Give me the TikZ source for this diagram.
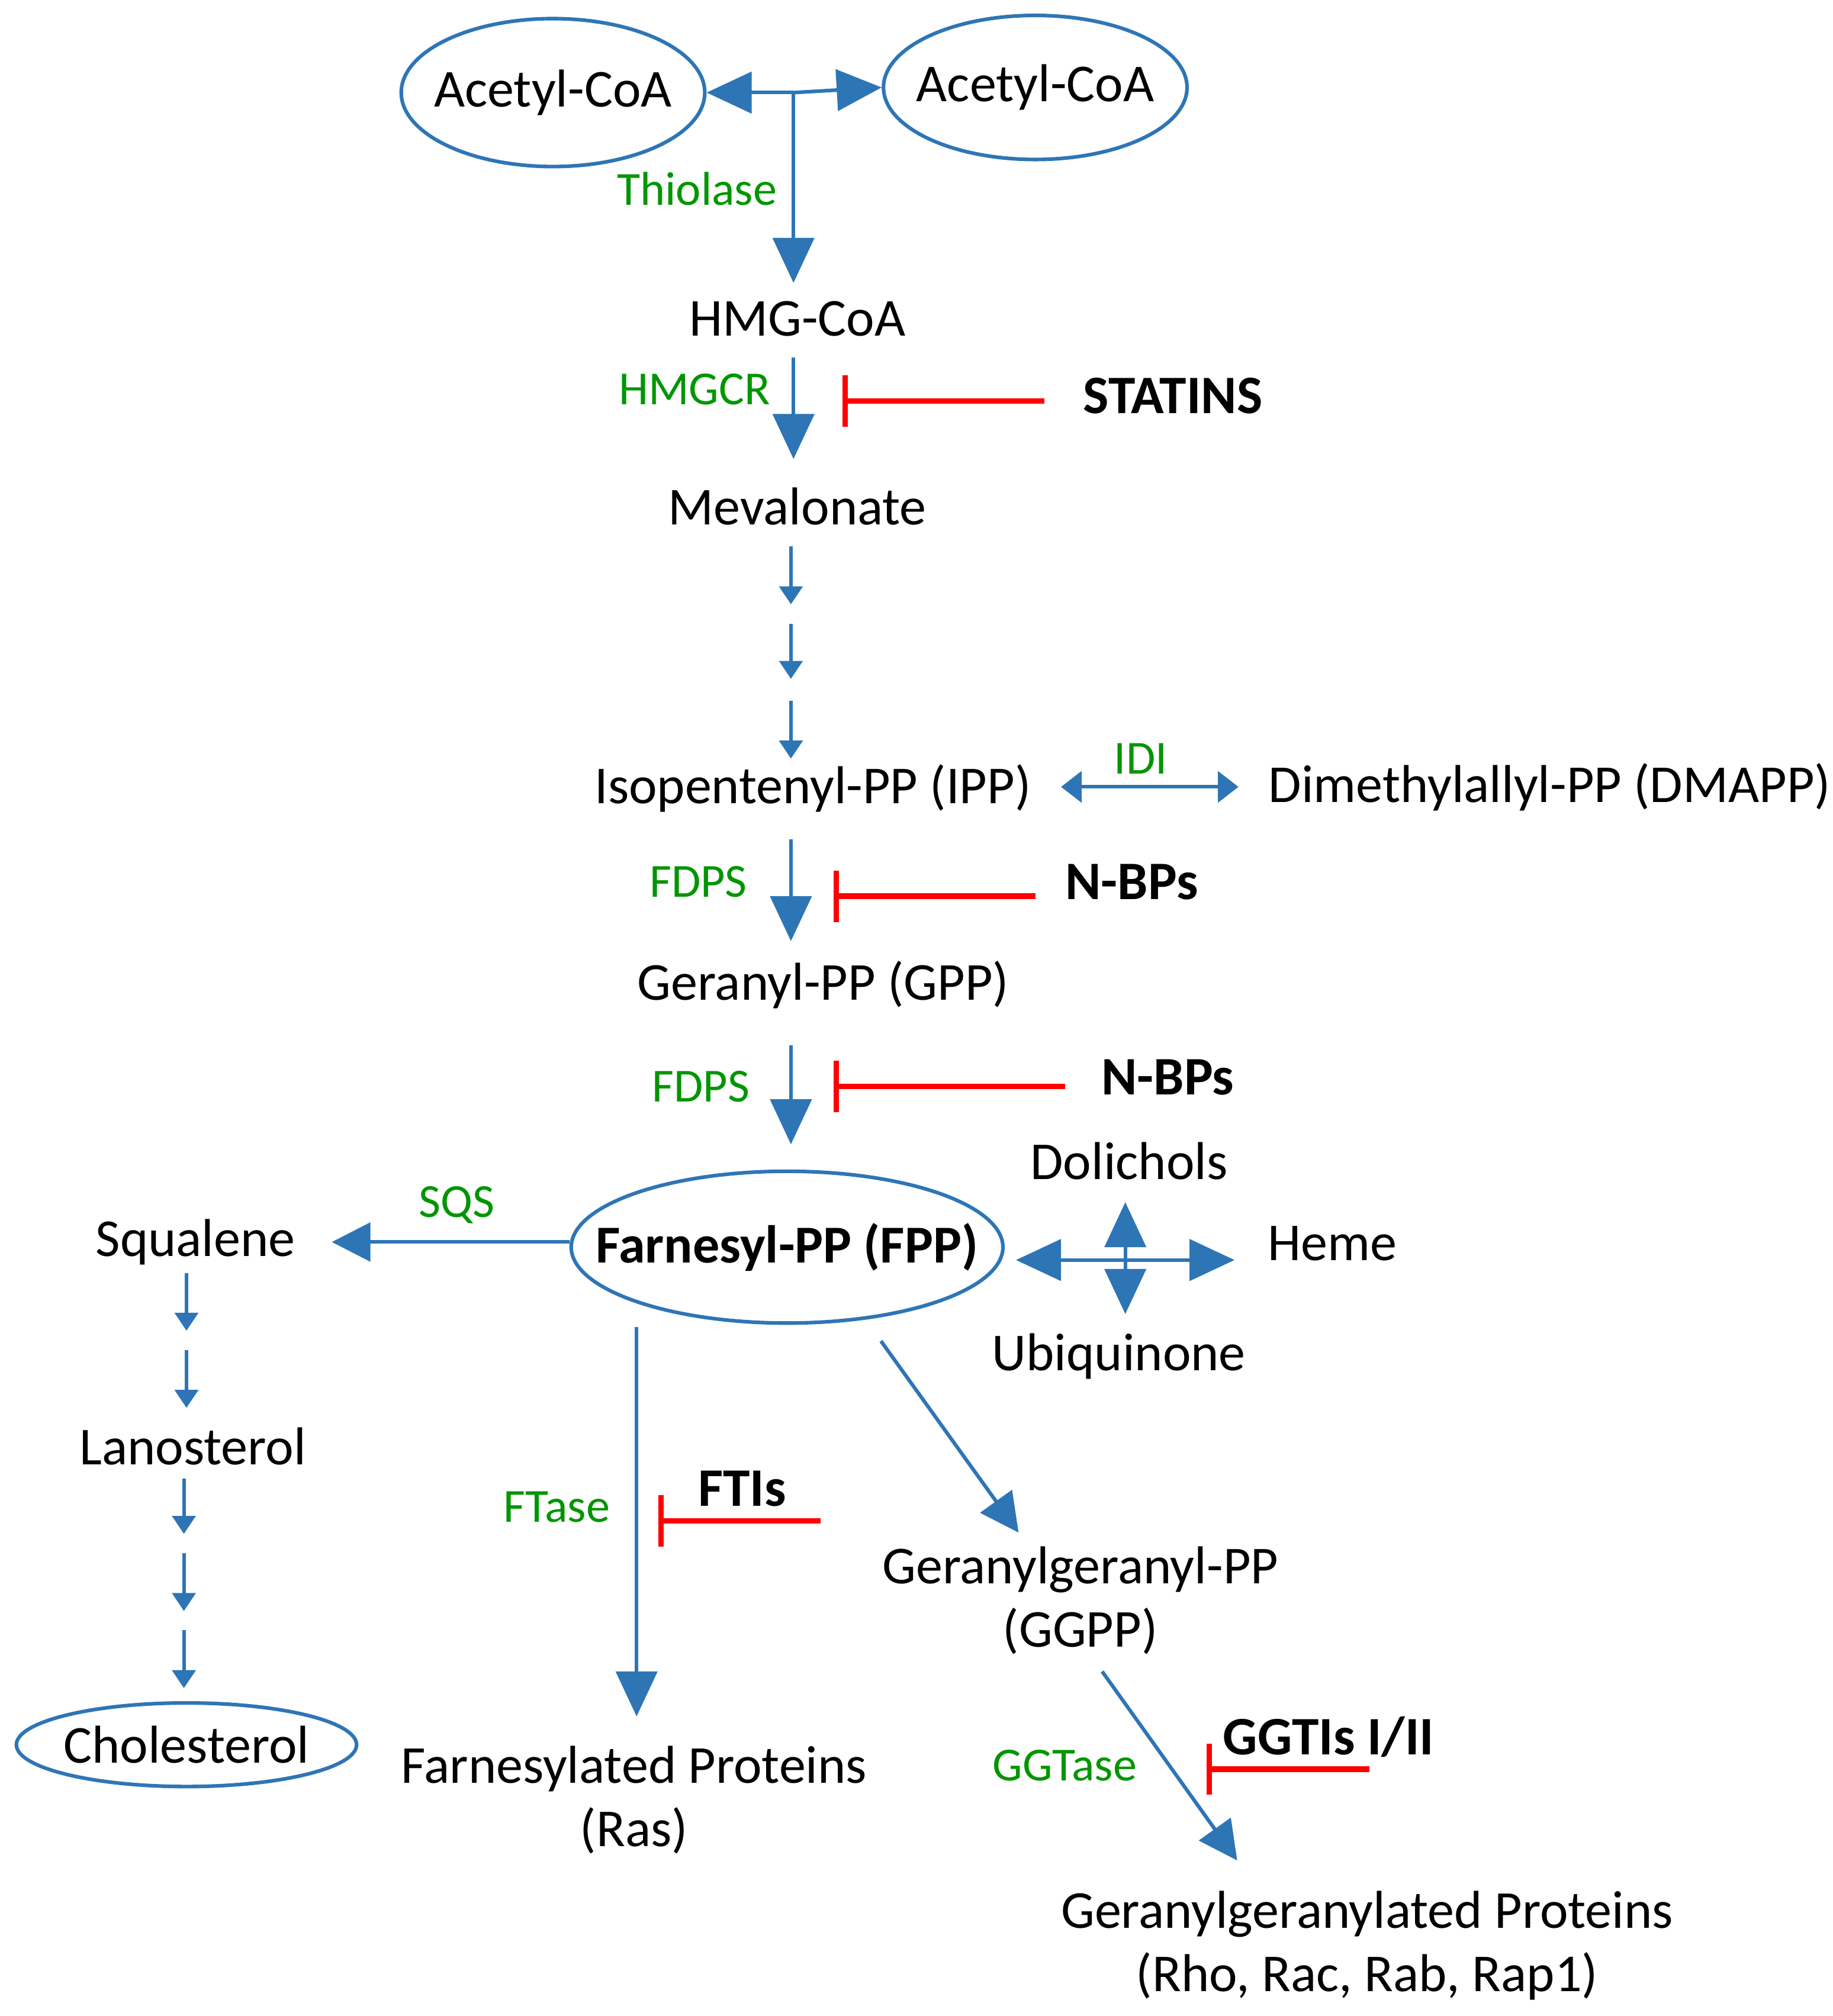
\documentclass[tikz,border=0pt]{standalone}
\usepackage{fontspec}
\setmainfont{Carlito}
\usetikzlibrary{arrows.meta,shapes.geometric}
\definecolor{pathblue}{RGB}{46,117,182}
\definecolor{enzgreen}{RGB}{0,150,0}
\tikzstyle{every node}=[font=\fontsize{11.8}{14}\selectfont,inner sep=1pt]
\tikzstyle{ring}=[draw=pathblue,thick,shape=ellipse,inner ysep=0pt]
\tikzstyle{enz}=[text=enzgreen,font=\fontsize{10.5}{12}\selectfont]
\tikzstyle{drug}=[font=\bfseries\fontsize{12}{14}\selectfont]
\tikzstyle{big}=[draw=pathblue,thick,-{Triangle[length=3.5mm,width=3.2mm]}]
\tikzstyle{small}=[draw=pathblue,thick,-{Triangle[length=1.4mm,width=1.8mm]}]
\tikzstyle{block}=[draw=red,very thick,-{Bar[width=4mm]}]

\begin{document}
\begin{tikzpicture}[x=0.01cm,y=-0.01cm]
\useasboundingbox (0,0) rectangle (1425,1568);
% substrates
\node[ring,inner xsep=-0.09cm,minimum height=1.15cm] (acl) at (430,72) {Acetyl-CoA};
\node[ring,inner xsep=-0.09cm,minimum height=1.12cm] (acr) at (805,68) {Acetyl-CoA};
\coordinate (jn) at (617,72);
\node (hmg) at (620,248) {HMG-CoA};
\node (mev) at (620,394) {Mevalonate};
\node (ipp) at (632,613) {Isopentenyl-PP (IPP)};
\node (dmapp) at (1205,612) {Dimethylallyl-PP (DMAPP)};
\node (gpp) at (640,766) {Geranyl-PP (GPP)};
\node[ring,inner xsep=-0.3cm,minimum height=1.18cm,font=\bfseries\fontsize{11.8}{14}\selectfont] (fpp) at (612,970) {Farnesyl-PP (FPP)};
\node (dol) at (878,903) {Dolichols};
\node (heme) at (1036,967) {Heme};
\node (ubi) at (870,1055) {Ubiquinone};
\node (sq) at (152,966) {Squalene};
\node (lan) at (150,1125) {Lanosterol};
\node[ring,inner xsep=-0.02cm,minimum height=0.65cm] (chol) at (145,1357) {Cholesterol};
\node[align=center] (fprot) at (493,1400) {Farnesylated Proteins\\(Ras)};
\node[align=center] (ggpp) at (840,1245) {Geranylgeranyl-PP\\(GGPP)};
\node[align=center] (ggprot) at (1063,1513) {Geranylgeranylated Proteins\\(Rho, Rac, Rab, Rap1)};
% enzymes and drugs
\node[enz] (thi) at (542,147) {Thiolase};
\node[enz] (hmgcr) at (540,303) {HMGCR};
\node[enz] (idi) at (887,590) {IDI};
\node[enz] (fdpsa) at (543,686) {FDPS};
\node[enz] (fdpsb) at (545,845) {FDPS};
\node[enz] (sqs) at (355,937) {SQS};
\node[enz] (ftase) at (433,1172) {FTase};
\node[enz] (ggtase) at (828,1373) {GGTase};
\node[drug] (stat) at (912,308) {STATINS};
\node[drug] (nbpa) at (880,686) {N-BPs};
\node[drug] (nbpb) at (908,838) {N-BPs};
\node[drug] (ftis) at (577,1158) {FTIs};
\node[drug] (ggtis) at (1033,1351) {GGTIs I/II};
% main chain
\draw[big] (jn) -- (acl.east);
\draw[big] (jn) -- (acr.west);
\draw[big] (jn) -- (617,220);
\draw[big] (617,278) -- (617,357);
\foreach \a/\b in {425/470,485/528,545/590}
  \draw[small] (615,\a) -- (615,\b);
\draw[draw=pathblue,thick,{Triangle[length=1.6mm,width=2.4mm]}-{Triangle[length=1.6mm,width=2.4mm]}] (825,612) -- (963,612);
\draw[big] (615,653) -- (615,732);
\draw[big] (615,813) -- (615,890);
% FPP branches
\draw[big] (875,980) -- (790,980);
\draw[big] (875,980) -- (960,980);
\draw[big] (875,980) -- (875,935);
\draw[big] (875,980) -- (875,1022);
\draw[draw=pathblue,thick,-{Triangle[length=3mm,width=3mm]}] (443,966) -- (258,966);
\foreach \a/\b in {990/1035,1050/1095}
  \draw[small] (145,\a) -- (145,\b);
\foreach \a/\b in {1150/1193,1208/1253,1268/1313}
  \draw[small] (143,\a) -- (143,\b);
\draw[big] (495,1032) -- (495,1335);
\draw[draw=pathblue,thick,-{Triangle[length=3mm,width=3mm]}] (685,1043) -- (792,1192);
\draw[draw=pathblue,thick,-{Triangle[length=3mm,width=3mm]}] (857,1300) -- (962,1447);
% inhibitors
\draw[block] (812,312) -- (655,312);
\draw[block] (805,697) -- (648,697);
\draw[block] (828,845) -- (648,845);
\draw[block] (638,1183) -- (512,1183);
\draw[block] (1065,1376) -- (938,1376);
\end{tikzpicture}
\end{document}
